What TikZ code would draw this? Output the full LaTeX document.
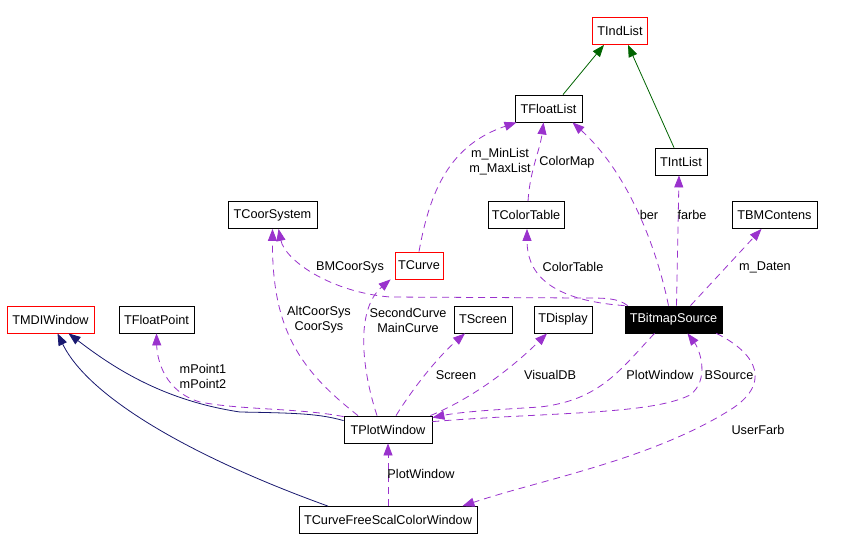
\documentclass[tikz,border=0pt]{standalone}
\usepackage{fontspec}
\setmainfont{Liberation Sans}
\usetikzlibrary{arrows.meta}
\definecolor{usecol}{HTML}{9A32CD}
\definecolor{inhcol}{HTML}{006400}
\definecolor{navycol}{HTML}{191970}
\begin{document}
\begin{tikzpicture}[x=1pt,y=-1pt,
  every node/.style={font=\fontsize{12.7}{15}\selectfont},
  cls/.style={draw=black, line width=0.8pt, fill=white, inner sep=0pt, minimum height=27pt, text=black},
  redcls/.style={cls, draw=red},
  blkcls/.style={cls, fill=black, text=white},
  lbl/.style={inner sep=0pt, align=center, text=black},
  usearrow/.style={draw=usecol, line width=0.8pt, dash pattern=on 7pt off 5pt, -{Triangle[length=12pt,width=9pt]}},
  inharrow/.style={draw=inhcol, line width=0.8pt, -{Triangle[length=12pt,width=9pt]}},
  navyarrow/.style={draw=navycol, line width=0.8pt, -{Triangle[length=12pt,width=9pt]}}]
\fill[white] (0,0) rectangle (866,550);
\useasboundingbox (0,0) rectangle (866,550);
% classes
\node[redcls, minimum width=55pt] (tindlist) at (620,31) {TIndList};
\node[cls, minimum width=67pt] (tfloatlist) at (548.5,108.5) {TFloatList};
\node[cls, minimum width=52pt] (tintlist) at (681,161.5) {TIntList};
\node[cls, minimum width=89pt] (tcoor) at (272.5,215) {TCoorSystem};
\node[redcls, minimum width=48pt] (tcurve) at (419,265.5) {TCurve};
\node[cls, minimum width=76pt] (tcolortable) at (526,215) {TColorTable};
\node[cls, minimum width=85pt] (tbmcontens) at (774.5,215) {TBMContens};
\node[blkcls, minimum width=97pt] (tbitmap) at (673.5,319.5) {TBitmapSource};
\node[redcls, minimum width=87pt] (tmdi) at (50.5,319.5) {TMDIWindow};
\node[cls, minimum width=75pt] (tfloatpoint) at (156.5,319.5) {TFloatPoint};
\node[cls, minimum width=58pt] (tscreen) at (483,319.5) {TScreen};
\node[cls, minimum width=58pt] (tdisplay) at (563,319.5) {TDisplay};
\node[cls, minimum width=88pt] (tplot) at (388,429.5) {TPlotWindow};
\node[cls, minimum width=178pt] (tcfs) at (388,520) {TCurveFreeScalColorWindow};
% inheritance
\draw[inharrow] ([xshift=14.5pt]tfloatlist.north) -- ([xshift=-16pt]tindlist.south);
\draw[inharrow] ([xshift=-7pt]tintlist.north) -- ([xshift=8pt]tindlist.south);
\draw[navyarrow] ([yshift=-5pt]tplot.north west) .. controls (320,414) and (300,413) .. (240,412) .. controls (160,400) and (110,365) .. ([xshift=18pt]tmdi.south);
\draw[navyarrow] ([xshift=-60pt]tcfs.north) .. controls (200,460) and (90,400) .. ([xshift=7pt]tmdi.south);
% usage
\draw[usearrow] (tcurve.north) .. controls (430,190) and (450,145) .. ([xshift=-32pt]tfloatlist.south);
\draw[usearrow] ([xshift=2pt]tcolortable.north) .. controls (530,170) and (540,150) .. ([xshift=-5pt]tfloatlist.south);
\draw[usearrow] ([xshift=-5pt]tbitmap.north) .. controls (655,240) and (625,170) .. ([xshift=24pt]tfloatlist.south);
\draw[usearrow] ([xshift=3pt]tbitmap.north) -- ([xshift=-2pt]tintlist.south);
\draw[usearrow] ([xshift=17pt]tbitmap.north) -- ([xshift=-13pt]tbmcontens.south);
\draw[usearrow] (tbitmap.north west) .. controls (545,300) and (527,270) .. ([xshift=1pt]tcolortable.south);
\draw[usearrow] ([xshift=3pt]tbitmap.north west) .. controls (618,298) and (605,298) .. (585,298) -- (390,297) .. controls (330,292) and (285,260) .. ([xshift=6pt]tcoor.south);
\draw[usearrow] ([xshift=-30pt]tplot.north) .. controls (300,370) and (272,330) .. (tcoor.south);
\draw[usearrow] ([xshift=-11pt]tplot.north) .. controls (362,370) and (355,310) .. ([xshift=-4pt]tcurve.south west);
\draw[usearrow] ([xshift=8pt]tplot.north) .. controls (415,385) and (440,355) .. ([xshift=-18pt]tscreen.south);
\draw[usearrow] ([xshift=-2pt]tplot.north east) .. controls (480,395) and (520,360) .. ([xshift=-16pt]tdisplay.south);
\draw[usearrow] ([xshift=-19pt]tbitmap.south) .. controls (620,370) and (600,400) .. (540,407) .. controls (490,410) and (460,412) .. ([yshift=-2pt]tplot.north east);
\draw[usearrow] ([yshift=-6pt]tplot.north east) .. controls (550,412) and (650,415) .. (690,395) .. controls (710,380) and (700,350) .. ([xshift=14pt]tbitmap.south);
\draw[usearrow] ([xshift=-6pt]tbitmap.south east) .. controls (760,355) and (770,385) .. (730,410) .. controls (650,460) and (540,480) .. ([xshift=-15pt]tcfs.north east);
\draw[usearrow] (tcfs.north) -- (tplot.south);
\draw[usearrow] ([yshift=-1pt]tplot.north west) .. controls (300,408) and (240,410) .. (200,402) .. controls (165,392) and (157,360) .. (tfloatpoint.south);
% labels
\node[lbl] (lminmax) at (500,162) {m\_MinList\\m\_MaxList};
\node[lbl] (lcolormap) at (567,162) {ColorMap};
\node[lbl] (lber) at (649,215) {ber};
\node[lbl] (lfarbe) at (692,215) {farbe};
\node[lbl] (ldaten) at (765,267) {m\_Daten};
\node[lbl] (lcolortable) at (573,267) {ColorTable};
\node[lbl] (lbmcoor) at (350,267) {BMCoorSys};
\node[lbl] (lcoor) at (319,320) {AltCoorSys\\CoorSys};
\node[lbl] (lcurve) at (408,320) {SecondCurve\\MainCurve};
\node[lbl] (lscreen) at (456,375) {Screen};
\node[lbl] (lvisual) at (550,375) {VisualDB};
\node[lbl] (lplot1) at (660,375) {PlotWindow};
\node[lbl] (lbsource) at (729,375) {BSource};
\node[lbl] (luserfarb) at (758,430) {UserFarb};
\node[lbl] (lplot2) at (421,474) {PlotWindow};
\node[lbl] (lmpoint) at (203,376) {mPoint1\\mPoint2};
\end{tikzpicture}
\end{document}
